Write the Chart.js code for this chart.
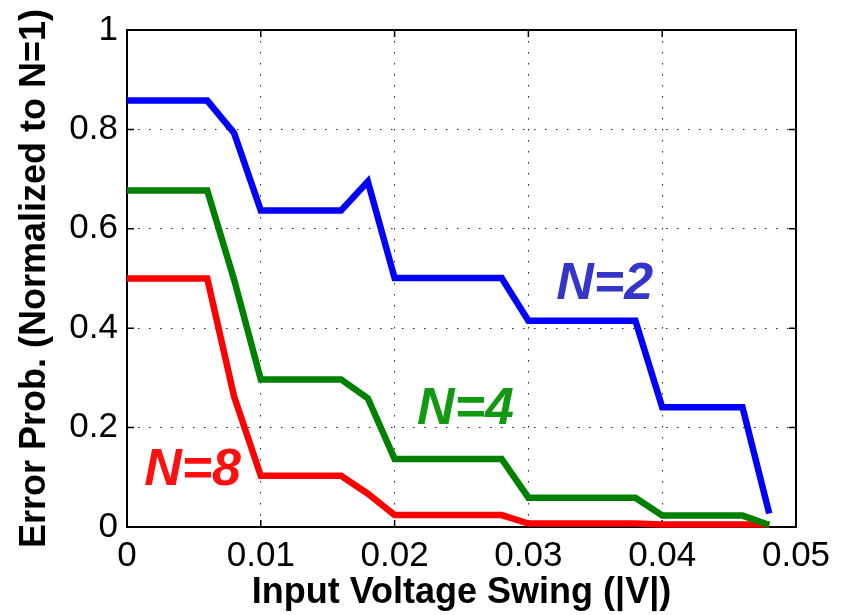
<!DOCTYPE html>
<html>
<head>
<meta charset="utf-8">
<script src="https://cdn.jsdelivr.net/npm/chart.js@4.4.1/dist/chart.umd.min.js"></script>
<style>
  html, body { margin: 0; padding: 0; background: #fff; }
  #wrap { width: 848px; height: 615px; }
</style>
</head>
<body>
<div id="wrap"><canvas id="c" width="848" height="615"></canvas></div>
<script>
// Input voltage swing (|V|) sample points
const swing = [0, 0.006, 0.008, 0.010, 0.016, 0.018, 0.020, 0.028, 0.030, 0.038, 0.040, 0.046, 0.048];

// Error probability normalized to N=1, one array per N
const errN2 = [0.858, 0.858, 0.793, 0.637, 0.637, 0.695, 0.501, 0.501, 0.415, 0.415, 0.241, 0.241, 0.027];
const errN4 = [0.677, 0.677, 0.498, 0.297, 0.297, 0.259, 0.137, 0.137, 0.059, 0.059, 0.023, 0.023, 0.004];
const errN8 = [0.500, 0.500, 0.263, 0.103, 0.103, 0.067, 0.024, 0.024, 0.007, 0.007, 0.005, 0.005, 0.005];

const seriesNames = ['N=2', 'N=4', 'N=8'];

// Axis ticks
const xTickValues = [0, 0.01, 0.02, 0.03, 0.04, 0.05];
const xTickLabels = ['0', '0.01', '0.02', '0.03', '0.04', '0.05'];
const yTickValues = [0, 0.2, 0.4, 0.6, 0.8, 1];
const yTickLabels = ['0', '0.2', '0.4', '0.6', '0.8', '1'];

// In-plot series labels, anchored in data coordinates
const labelAnchorsX = [0.0357, 0.0253, 0.0049];
const labelAnchorsY = [0.487, 0.237, 0.113];
const labelColors = ['#3535cc', '#129912', '#ff0f0f'];

const lineColors = ['#0000ff', '#008000', '#ff0000'];
const FONT = '"Liberation Sans", Arial, Helvetica, sans-serif';

function toPoints(ys) { return swing.map((x, i) => ({ x: x, y: ys[i] })); }

const boxAndTicks = {
  id: 'boxAndTicks',
  beforeDatasetsDraw(chart) {
    const { ctx, chartArea: a, scales } = chart;
    const len = 7;
    ctx.save();
    ctx.strokeStyle = '#000';
    ctx.lineWidth = 1.5;
    ctx.beginPath();
    xTickValues.forEach(v => {
      const px = scales.x.getPixelForValue(v);
      ctx.moveTo(px, a.bottom); ctx.lineTo(px, a.bottom - len);
      ctx.moveTo(px, a.top); ctx.lineTo(px, a.top + len);
    });
    yTickValues.forEach(v => {
      const py = scales.y.getPixelForValue(v);
      ctx.moveTo(a.left, py); ctx.lineTo(a.left + len, py);
      ctx.moveTo(a.right, py); ctx.lineTo(a.right - len, py);
    });
    ctx.stroke();
    ctx.lineWidth = 2;
    ctx.strokeRect(a.left, a.top, a.right - a.left, a.bottom - a.top);
    ctx.restore();
  },
  afterDatasetsDraw(chart) {
    const { ctx, scales } = chart;
    ctx.save();
    ctx.font = 'italic bold 52px ' + FONT;
    ctx.textAlign = 'center';
    ctx.textBaseline = 'middle';
    seriesNames.forEach((name, i) => {
      ctx.fillStyle = labelColors[i];
      ctx.fillText(name, scales.x.getPixelForValue(labelAnchorsX[i]), scales.y.getPixelForValue(labelAnchorsY[i]));
    });
    ctx.restore();
  }
};

const gridStyle = {
  color: '#222',
  lineWidth: 1,
  drawTicks: false
};

new Chart(document.getElementById('c'), {
  type: 'line',
  data: {
    datasets: [errN2, errN4, errN8].map((ys, i) => ({
      label: seriesNames[i],
      data: toPoints(ys),
      borderColor: lineColors[i],
      borderWidth: 6.5,
      pointRadius: 0,
      tension: 0,
      clip: false,
      borderJoinStyle: 'miter'
    }))
  },
  options: {
    responsive: false,
    animation: false,
    layout: { padding: { left: 0, top: 27, right: 52, bottom: 0 } },
    plugins: { legend: { display: false }, tooltip: { enabled: false } },
    scales: {
      x: {
        type: 'linear',
        min: 0, max: 0.05,
        afterBuildTicks: s => { s.ticks = xTickValues.map(v => ({ value: v })); },
        afterFit: s => { s.height = 88; },
        ticks: {
          callback: (v, i) => xTickLabels[i],
          font: { family: FONT, size: 35 },
          color: '#000',
          padding: 8,
          maxRotation: 0
        },
        grid: Object.assign({}, gridStyle),
        border: { display: false, dash: [1.5, 9.5] },
        title: {
          display: true,
          text: 'Input Voltage Swing (|V|)',
          font: { family: FONT, size: 36, weight: 'bold' },
          color: '#000',
          padding: { top: 0, bottom: 0 }
        }
      },
      y: {
        type: 'linear',
        min: 0, max: 1,
        afterBuildTicks: s => { s.ticks = yTickValues.map(v => ({ value: v })); },
        afterFit: s => { s.width = 127; },
        ticks: {
          callback: (v, i) => yTickLabels[i],
          font: { family: FONT, size: 35 },
          color: '#000',
          padding: 9
        },
        grid: Object.assign({}, gridStyle),
        border: { display: false, dash: [1.5, 9.5] },
        title: {
          display: true,
          text: 'Error Prob. (Normalized to N=1)',
          font: { family: FONT, size: 36, weight: 'bold' },
          color: '#000',
          padding: { top: 13, bottom: 0 }
        }
      }
    }
  },
  plugins: [boxAndTicks]
});
</script>
</body>
</html>
